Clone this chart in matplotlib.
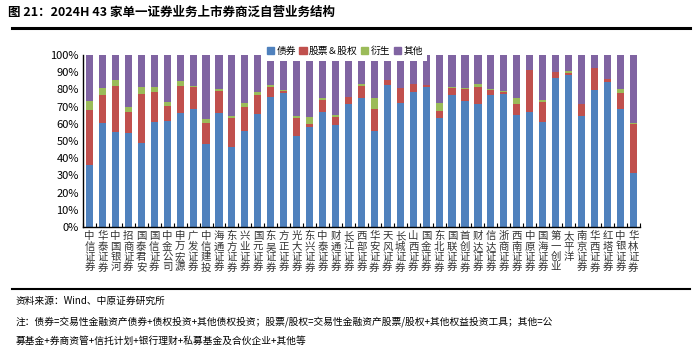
import matplotlib
matplotlib.use("Agg")
import matplotlib.pyplot as plt
import matplotlib.patches as mpatches
from matplotlib.ticker import PercentFormatter, FixedLocator
import numpy as np

plt.rcParams["font.family"] = ["Noto Sans CJK SC", "DejaVu Sans"]

BLUE = "#4F81BD"
RED = "#C0504D"
GREEN = "#9BBB59"
PURPLE = "#8064A2"

brokers = ["中信证券", "华泰证券", "中国银河", "招商证券", "国泰君安", "国信证券", "中金公司",
           "申万宏源", "广发证券", "中信建投", "海通证券", "东方证券", "兴业证券", "国元证券",
           "东吴证券", "方正证券", "光大证券", "东兴证券", "中泰证券", "财通证券", "长江证券",
           "西部证券", "华安证券", "天风证券", "长城证券", "山西证券", "国金证券", "东北证券",
           "国联证券", "首创证券", "财达证券", "信达证券", "浙商证券", "西南证券", "中原证券",
           "国海证券", "第一创业", "太平洋", "南京证券", "华西证券", "红塔证券", "中银证券",
           "华林证券"]

# shares in %
bond = [35.9, 60.6, 55.3, 54.4, 48.9, 61.2, 61.7, 66.2, 68.9, 48.0, 66.2, 46.8, 55.9, 65.6,
        75.7, 77.7, 53.0, 57.9, 66.6, 59.6, 71.3, 74.8, 55.9, 82.3, 72.4, 78.8, 81.7, 63.3,
        76.5, 73.2, 71.5, 76.9, 77.3, 65.2, 66.8, 61.0, 86.6, 88.2, 64.5, 79.4, 84.1, 68.9,
        31.5]
equity = [31.9, 16.1, 26.6, 12.4, 28.6, 17.4, 8.6, 15.9, 12.7, 12.6, 13.0, 16.5, 13.8, 11.3,
          5.9, 1.5, 10.3, 2.1, 7.2, 4.5, 4.2, 7.1, 12.6, 3.1, 8.2, 4.1, 0.6, 4.3,
          4.1, 7.2, 10.2, 2.7, 1.1, 6.1, 24.3, 11.8, 3.3, 1.1, 6.8, 12.8, 1.9, 9.0,
          28.5]
deriv = [5.4, 3.9, 3.5, 3.1, 3.7, 3.1, 2.3, 2.8, 0.5, 2.1, 1.2, 1.0, 2.7, 1.7,
         0.9, 0.2, 1.2, 4.1, 1.2, 0.9, 0.2, 1.0, 6.3, 0.2, 0.2, 0.2, 0.2, 4.8,
         1.1, 0.6, 1.6, 0.8, 0.6, 3.5, 0.2, 1.0, 0.2, 1.4, 0.2, 0.2, 0.2, 2.1,
         0.2]
other = [100 - b - e - d for b, e, d in zip(bond, equity, deriv)]

series = [("债券", bond, BLUE), ("股票＆股权", equity, RED), ("衍生", deriv, GREEN), ("其他", other, PURPLE)]

fig = plt.figure(figsize=(7.0, 3.53), dpi=100)
fig.patch.set_facecolor("white")
ax = fig.add_axes([0.1186, 0.357, 0.7954, 0.487])

x = np.arange(len(brokers))
bottom = np.zeros(len(brokers))
handles = []
for label, vals, color in series:
    vals = np.array(vals)
    ax.bar(x, vals, bottom=bottom, width=0.55, color=color, edgecolor="none", label=label, zorder=2)
    bottom += vals
    handles.append(mpatches.Patch(color=color, label=label))

ax.set_xlim(-0.42, len(brokers) - 0.55)
ax.set_ylim(0, 100)
ax.yaxis.set_major_locator(FixedLocator(np.arange(0, 101, 10)))
ax.yaxis.set_major_formatter(PercentFormatter(decimals=0))
ax.tick_params(axis="y", labelsize=8, length=0, pad=3)
ax.set_xticks(x)
ax.set_xticklabels(["\n".join(n) for n in brokers], fontsize=7.5, linespacing=1.05, color="#333333")
ax.tick_params(axis="x", length=0, pad=3)
ax.set_xticks(np.arange(-0.5, len(brokers), 1.0), minor=True)
ax.tick_params(axis="x", which="minor", length=3, direction="in", width=0.8)

for s in ["top", "right"]:
    ax.spines[s].set_visible(False)
ax.spines["left"].set_linewidth(1.0)
ax.spines["bottom"].set_linewidth(1.0)

leg = ax.legend(handles=handles, loc="lower left", bbox_to_anchor=(0.322, 0.968), ncol=4,
                fontsize=7, frameon=True, handlelength=0.75, handleheight=0.75,
                handletextpad=0.25, columnspacing=0.35, borderpad=0.45, borderaxespad=0)
leg.get_frame().set_facecolor("white")
leg.get_frame().set_edgecolor("none")
leg.get_frame().set_alpha(1.0)
leg.get_frame().set_boxstyle("square", pad=0)
leg.set_zorder(5)

fig.text(0.012, 0.965, "图 21：2024H 43 家单一证券业务上市券商泛自营业务结构",
         fontsize=9, fontweight="bold", va="center", ha="left")
fig.add_artist(plt.Line2D([0.017, 0.986], [0.922, 0.922], color="black", linewidth=2.2))
fig.add_artist(plt.Line2D([0.017, 0.986], [0.182, 0.182], color="black", linewidth=1.5))

fig.text(0.022, 0.148, "资料来源：Wind、中原证券研究所", fontsize=7, va="center", ha="left")
fig.text(0.022, 0.088, "注：债券=交易性金融资产债券+债权投资+其他债权投资；股票/股权=交易性金融资产股票/股权+其他权益投资工具；其他=公",
         fontsize=7, va="center", ha="left")
fig.text(0.022, 0.035, "募基金+券商资管+信托计划+银行理财+私募基金及合伙企业+其他等",
         fontsize=7, va="center", ha="left")

fig.savefig("out.png", dpi=100, facecolor="white")
